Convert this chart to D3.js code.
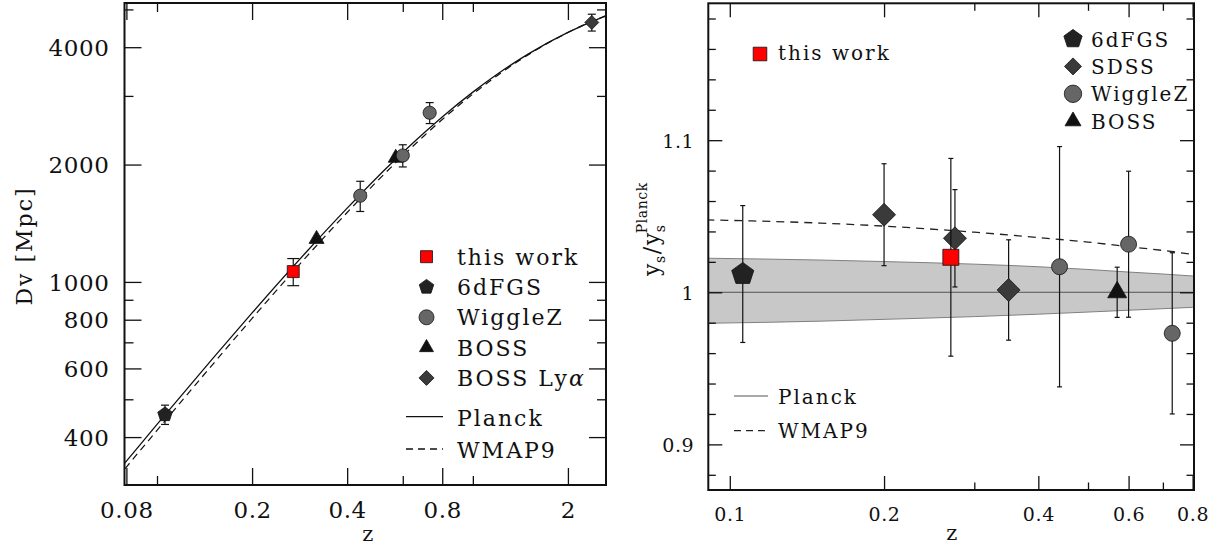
<!DOCTYPE html>
<html>
<head>
<meta charset="utf-8">
<script src="https://cdn.jsdelivr.net/npm/d3@7"></script>
<style>
body { margin: 0; background: #fff; }
svg text { font-family: "DejaVu Serif", serif; fill: #111; letter-spacing: 0.6px; }
svg text.leg { letter-spacing: 2px; }
</style>
</head>
<body>
<svg id="chart" width="1213" height="549"></svg>
<script>
"use strict";

/*
 * Left: volume distance Dv(z). Right: y_s relative to Planck.
 */

// model curves, left panel
const curveZ   = [0.075, 0.08, 0.1, 0.15, 0.2, 0.3, 0.4, 0.5, 0.6, 0.7, 0.8, 1.0, 1.2, 1.5, 2.0, 2.5, 2.7];
const planckDv = [326, 347, 431, 636, 833, 1204, 1546, 1862, 2147, 2409, 2649, 3068, 3419, 3845, 4365, 4728, 4843];
const wmap9Dv  = [314, 335, 416, 614, 806, 1170, 1507, 1820, 2105, 2368, 2609, 3033, 3391, 3827, 4362, 4737, 4856];

// measurements, left panel
const dvThisZ = [0.27],  dvThis = [1063], dvThisErr = [85];
const dv6dfZ  = [0.106], dv6df  = [457],  dv6dfErr  = [26];
const dvWigZ  = [0.44, 0.6, 0.73], dvWig = [1664, 2110, 2716], dvWigErr = [148, 138, 168];
const dvBossZ = [0.32, 0.57], dvBoss = [1288, 2080], dvBossErr = [0, 0];
const dvLyaZ  = [2.38],  dvLya  = [4630], dvLyaErr = [230];

// right panel: Planck band, WMAP9 ratio
const bandZ     = [0.09, 0.15, 0.2, 0.3, 0.4, 0.5, 0.6, 0.7, 0.8, 0.81];
const bandHi    = [1.0224, 1.0212, 1.0202, 1.0185, 1.0168, 1.0150, 1.0133, 1.0120, 1.0107, 1.0106];
const bandLo    = [0.9796, 0.9810, 0.9822, 0.9840, 0.9856, 0.9870, 0.9882, 0.9892, 0.9901, 0.9902];
const wmapRatio = [1.0476, 1.0455, 1.0435, 1.0395, 1.0360, 1.0330, 1.0300, 1.0275, 1.0250, 1.0248];

// measurements, right panel
const ysThisZ = [0.27],  ysThis = [1.023],  ysThisErr = [0.065];
const ys6dfZ  = [0.106], ys6df  = [1.012],  ys6dfErr  = [0.045];
const ysSdssZ = [0.2, 0.275, 0.35], ysSdss = [1.051, 1.0355, 1.0015], ysSdssErr = [0.0335, 0.032, 0.033];
const ysWigZ  = [0.44, 0.6, 0.73],  ysWig  = [1.0168, 1.0316, 0.973], ysWigErr = [0.079, 0.048, 0.053];
const ysBossZ = [0.57],  ysBoss = [1.000],  ysBossErr = [0.0165];

// ticks
const leftXMajor = [0.08, 0.2, 0.4, 0.8, 2];
const leftXMinor = [0.1, 0.6, 1];
const leftYMajor = [400, 600, 800, 1000, 2000, 4000];
const leftYMinor = [500, 700, 900, 3000, 5000];
const rightXMajor = [0.1, 0.2, 0.4, 0.6, 0.8];
const rightXMinor = [0.3, 0.5, 0.7];
const rightYMajor = [0.9, 1.0, 1.1];
const rightYMinor = [0.88, 0.92, 0.94, 0.96, 0.98, 1.02, 1.04, 1.06, 1.08, 1.12, 1.14, 1.16, 1.18];

const RED = "#ff0000";
const COL = {pentagon: "#222", diamond: "#3a3a3a", circle: "#666", triangle: "#111", square: RED};

const svg = d3.select("#chart");

const L = {x0: 124.5, x1: 606, y0: 3, y1: 485};
const R = {x0: 708.3, x1: 1194, y0: 3.3, y1: 490};

const xL = d3.scaleLog().domain([0.0789, 2.64]).range([L.x0, L.x1]);
const yL = d3.scaleLog().domain([301.4, 5193]).range([L.y1, L.y0]);
const xR = d3.scaleLog().domain([0.0908, 0.805]).range([R.x0, R.x1]);
const yR = d3.scaleLinear().domain([0.87, 1.19]).range([R.y1, R.y0]);

function markerPath(shape, r) {
  const p = d3.path();
  if (shape === "circle") {
    p.moveTo(r, 0);
    p.arc(0, 0, r, 0, 2 * Math.PI);
  } else if (shape === "square") {
    p.rect(-r, -r, 2 * r, 2 * r);
  } else if (shape === "diamond") {
    p.moveTo(0, -r); p.lineTo(r, 0); p.lineTo(0, r); p.lineTo(-r, 0); p.closePath();
  } else if (shape === "triangle") {
    const h = r * Math.sqrt(3);
    p.moveTo(0, -h * 2 / 3); p.lineTo(r, h / 3); p.lineTo(-r, h / 3); p.closePath();
  } else if (shape === "pentagon") {
    for (let i = 0; i < 5; i++) {
      const a = -Math.PI / 2 + i * 2 * Math.PI / 5;
      if (i === 0) p.moveTo(r * Math.cos(a), r * Math.sin(a));
      else p.lineTo(r * Math.cos(a), r * Math.sin(a));
    }
    p.closePath();
  }
  return p.toString();
}

function drawMarker(g, shape, r, cx, cy) {
  g.append("path")
    .attr("d", markerPath(shape, r))
    .attr("transform", `translate(${cx},${cy})`)
    .attr("fill", COL[shape])
    .attr("stroke", "#111")
    .attr("stroke-width", 0.8);
}

function drawSeries(g, xs, ys, zs, vals, errs, shape, r, cap) {
  zs.forEach((z, i) => {
    const cx = xs(z);
    if (errs[i] > 0) {
      const top = ys(vals[i] + errs[i]);
      const bot = ys(vals[i] - errs[i]);
      g.append("line").attr("x1", cx).attr("x2", cx).attr("y1", top).attr("y2", bot)
        .attr("stroke", "#111").attr("stroke-width", 1.2);
      for (let yy of [top, bot]) {
        g.append("line").attr("x1", cx - cap).attr("x2", cx + cap).attr("y1", yy).attr("y2", yy)
          .attr("stroke", "#111").attr("stroke-width", 1.2);
      }
    }
    drawMarker(g, shape, r, cx, ys(vals[i]));
  });
}

function axis(g, gen, values, size, fmt) {
  g.call(gen.tickValues(values).tickSizeInner(-size).tickSizeOuter(0)
    .tickFormat(fmt || (() => "")));
  g.select(".domain").remove();
  g.selectAll("line").attr("stroke", "#111").attr("stroke-width", 1.3);
  return g;
}

function frameAxes(box, xs, ys, xMaj, xMin, yMaj, yMin, long, short, fs, xFmt, yFmt, xLabY, yLabX) {
  const g = svg.append("g");
  const bx = axis(g.append("g").attr("transform", `translate(0,${box.y1})`), d3.axisBottom(xs), xMaj, long, xFmt);
  bx.selectAll("text").attr("y", xLabY).attr("dy", 0).style("font-size", fs + "px");
  axis(g.append("g").attr("transform", `translate(0,${box.y1})`), d3.axisBottom(xs), xMin, short);
  axis(g.append("g").attr("transform", `translate(0,${box.y0})`), d3.axisTop(xs), xMaj, long);
  axis(g.append("g").attr("transform", `translate(0,${box.y0})`), d3.axisTop(xs), xMin, short);
  const ly = axis(g.append("g").attr("transform", `translate(${box.x0},0)`), d3.axisLeft(ys), yMaj, long, yFmt);
  ly.selectAll("text").attr("x", yLabX).attr("dy", "0.36em").style("font-size", fs + "px");
  axis(g.append("g").attr("transform", `translate(${box.x0},0)`), d3.axisLeft(ys), yMin, short);
  axis(g.append("g").attr("transform", `translate(${box.x1},0)`), d3.axisRight(ys), yMaj, long);
  axis(g.append("g").attr("transform", `translate(${box.x1},0)`), d3.axisRight(ys), yMin, short);
  g.selectAll("text").attr("fill", "#111").style("font-family", "DejaVu Serif, serif");
  g.append("rect").attr("x", box.x0).attr("y", box.y0)
    .attr("width", box.x1 - box.x0).attr("height", box.y1 - box.y0)
    .attr("fill", "none").attr("stroke", "#111").attr("stroke-width", 2);
}

// ---------- left panel ----------
svg.append("clipPath").attr("id", "clipL").append("rect")
  .attr("x", L.x0).attr("y", L.y0).attr("width", L.x1 - L.x0).attr("height", L.y1 - L.y0);

const left = svg.append("g");
const lineL = d3.line().x(d => xL(d[0])).y(d => yL(d[1])).curve(d3.curveMonotoneX);
left.append("path").attr("clip-path", "url(#clipL)")
  .attr("d", lineL(curveZ.map((z, i) => [z, planckDv[i]])))
  .attr("fill", "none").attr("stroke", "#111").attr("stroke-width", 1.3);
left.append("path").attr("clip-path", "url(#clipL)")
  .attr("d", lineL(curveZ.map((z, i) => [z, wmap9Dv[i]])))
  .attr("fill", "none").attr("stroke", "#111").attr("stroke-width", 1.2)
  .attr("stroke-dasharray", "7,5");

drawSeries(left, xL, yL, dv6dfZ, dv6df, dv6dfErr, "pentagon", 7.6, 4);
drawSeries(left, xL, yL, dvBossZ, dvBoss, dvBossErr, "triangle", 7.5, 4);
drawSeries(left, xL, yL, dvWigZ, dvWig, dvWigErr, "circle", 6.6, 4);
drawSeries(left, xL, yL, dvLyaZ, dvLya, dvLyaErr, "diamond", 7, 4);
drawSeries(left, xL, yL, dvThisZ, dvThis, dvThisErr, "square", 6, 6);

frameAxes(L, xL, yL, leftXMajor, leftXMinor, leftYMajor, leftYMinor, 17, 9, 23,
  d => String(d), d => String(d), 33, -15);

svg.append("text").attr("x", 368).attr("y", 541).attr("text-anchor", "middle")
  .style("font-size", "21px").text("z");
svg.append("text").attr("class", "leg").attr("transform", "translate(32,246) rotate(-90)")
  .attr("text-anchor", "middle").style("font-size", "22px").text("Dv  [Mpc]");

// left legend
const legLeftLabels = ["this work", "6dFGS", "WiggleZ", "BOSS", "BOSS Ly"];
const legLeftShapes = ["square", "pentagon", "circle", "triangle", "diamond"];
const legLeftSizes = [6, 7.6, 7.5, 7, 7.5];
legLeftLabels.forEach((lab, i) => {
  const y = 256.7 + i * 30.3;
  drawMarker(svg, legLeftShapes[i], legLeftSizes[i], 426.5, y);
  const t = svg.append("text").attr("class", "leg").attr("x", 457).attr("y", y + 8)
    .style("font-size", "22px").text(lab);
  if (i === 4) t.append("tspan").style("font-style", "italic").text("α");
});
[["Planck", null, 416.7], ["WMAP9", "7,5", 449]].forEach(([lab, dash, y]) => {
  svg.append("line").attr("x1", 406).attr("x2", 443).attr("y1", y).attr("y2", y)
    .attr("stroke", "#111").attr("stroke-width", 1.3).attr("stroke-dasharray", dash);
  svg.append("text").attr("class", "leg").attr("x", 457).attr("y", y + 9)
    .style("font-size", "22px").text(lab);
});

// ---------- right panel ----------
svg.append("clipPath").attr("id", "clipR").append("rect")
  .attr("x", R.x0).attr("y", R.y0).attr("width", R.x1 - R.x0).attr("height", R.y1 - R.y0);

const right = svg.append("g");
const band = right.append("g").attr("clip-path", "url(#clipR)");
band.append("path")
  .attr("d", d3.area().x(d => xR(d[0])).y0(d => yR(d[1])).y1(d => yR(d[2])).curve(d3.curveMonotoneX)(
    bandZ.map((z, i) => [z, bandLo[i], bandHi[i]])))
  .attr("fill", "#c8c8c8");
const lineR = d3.line().x(d => xR(d[0])).y(d => yR(d[1])).curve(d3.curveMonotoneX);
for (let edge of [bandHi, bandLo]) {
  band.append("path").attr("d", lineR(bandZ.map((z, i) => [z, edge[i]])))
    .attr("fill", "none").attr("stroke", "#808080").attr("stroke-width", 1);
}
band.append("path").attr("d", lineR([[bandZ[0], 1], [bandZ[bandZ.length - 1], 1]]))
  .attr("fill", "none").attr("stroke", "#555").attr("stroke-width", 1);
band.append("path").attr("d", lineR(bandZ.map((z, i) => [z, wmapRatio[i]])))
  .attr("fill", "none").attr("stroke", "#222").attr("stroke-width", 1.3)
  .attr("stroke-dasharray", "8,6");

drawSeries(right, xR, yR, ys6dfZ, ys6df, ys6dfErr, "pentagon", 11.6, 2.5);
drawSeries(right, xR, yR, ysSdssZ, ysSdss, ysSdssErr, "diamond", 11.5, 2.5);
drawSeries(right, xR, yR, ysThisZ, ysThis, ysThisErr, "square", 8, 2.5);
drawSeries(right, xR, yR, ysWigZ, ysWig, ysWigErr, "circle", 8, 2.5);
drawSeries(right, xR, yR, ysBossZ, ysBoss, ysBossErr, "triangle", 9.5, 2.5);

frameAxes(R, xR, yR, rightXMajor, rightXMinor, rightYMajor, rightYMinor, 14, 7.5, 19,
  d => String(d), d => (d === 1 ? "1" : String(d)), 31, -14);

svg.append("text").attr("x", 952).attr("y", 540).attr("text-anchor", "middle")
  .style("font-size", "21px").text("z");
const yl = svg.append("text").attr("transform", "translate(659,276) rotate(-90)")
  .style("font-size", "22px");
yl.append("tspan").text("y");
yl.append("tspan").attr("dy", 6).style("font-size", "14px").text("s");
yl.append("tspan").attr("dy", -6).attr("dx", 1).text("/");
yl.append("tspan").attr("dx", 1).text("y");
yl.append("tspan").attr("dy", 6).style("font-size", "14px").text("s");
yl.append("tspan").attr("dx", -9).attr("dy", -18).style("font-size", "14px").text("Planck");

// right legend
drawMarker(svg, "square", 6.8, 760, 54);
svg.append("text").attr("class", "leg").attr("x", 778).attr("y", 60)
  .style("font-size", "20px").text("this work");
const legRightLabels = ["6dFGS", "SDSS", "WiggleZ", "BOSS"];
const legRightShapes = ["pentagon", "diamond", "circle", "triangle"];
const legRightSizes = [9.6, 8.5, 8.7, 8];
legRightLabels.forEach((lab, i) => {
  const y = 39 + i * 27.4;
  drawMarker(svg, legRightShapes[i], legRightSizes[i], 1073, y);
  svg.append("text").attr("class", "leg").attr("x", 1091).attr("y", y + 7.5)
    .style("font-size", "20px").text(lab);
});
[["Planck", null, 396], ["WMAP9", "7,5", 430.7]].forEach(([lab, dash, y]) => {
  svg.append("line").attr("x1", 734).attr("x2", 768).attr("y1", y).attr("y2", y)
    .attr("stroke", dash ? "#222" : "#555").attr("stroke-width", 1.2).attr("stroke-dasharray", dash);
  svg.append("text").attr("class", "leg").attr("x", 778).attr("y", y + 7.5)
    .style("font-size", "20px").text(lab);
});
</script>
</body>
</html>
